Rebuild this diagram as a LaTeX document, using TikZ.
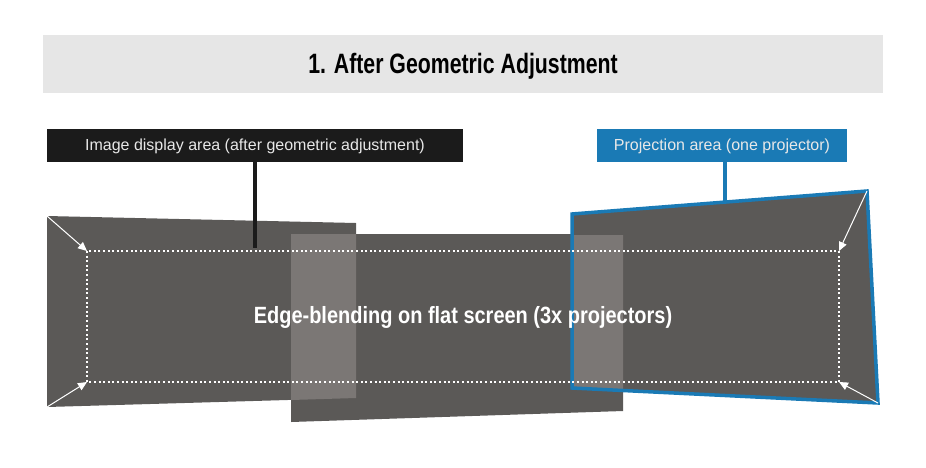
\documentclass[tikz,border=0pt]{standalone}
\usepackage{fontspec}
\setmainfont{Liberation Sans}
\newfontfamily\condbold[FakeStretch=0.85]{Liberation Sans Bold}
\newfontfamily\condboldtitle[FakeStretch=0.76]{Liberation Sans Bold}
\usetikzlibrary{arrows.meta}
\definecolor{titlebg}{HTML}{E6E6E6}
\definecolor{quad}{HTML}{5B5957}
\definecolor{overlap}{HTML}{7B7775}
\definecolor{projblue}{HTML}{1A7AB5}
\definecolor{labelblack}{HTML}{1B1B1B}
\definecolor{labeltext}{HTML}{E8E8E8}
\tikzset{
  labelbox/.style={minimum height=33pt, inner sep=0pt, text=labeltext, font=\fontsize{16pt}{18pt}\selectfont},
  stem/.style={line width=3.5pt},
  cornerarrow/.style={white, line width=1pt, -{Triangle[length=9pt,width=8pt]}},
  dottedrect/.style={white, line width=1.8pt, dash pattern=on 2pt off 2.6pt},
}
\begin{document}
\begin{tikzpicture}[x=1pt,y=-1pt]
\useasboundingbox (0,0) rectangle (926,467);
% title bar
\node[fill=titlebg, minimum width=840pt, minimum height=58pt, inner sep=0pt] (title) at (463,64)
  {\raisebox{-9.3pt}[0pt][0pt]{\condboldtitle\fontsize{28pt}{32pt}\selectfont 1. After Geometric Adjustment}};
% quads
\fill[quad] (47,216) -- (356,223) -- (356,398) -- (47,407) -- cycle;
\fill[quad] (291,234) -- (623,234) -- (623,411) -- (291,422) -- cycle;
\fill[quad] (572,214) -- (867,191) -- (878,403) -- (572,388) -- cycle;
% overlaps
\fill[overlap] (291,234) -- (356,234) -- (356,398) -- (291,400) -- cycle;
\fill[overlap] (572,235) -- (623,235) -- (623,390.5) -- (572,388) -- cycle;
% blue outline
\draw[projblue, line width=3.5pt, line join=miter] (572,214) -- (867,191) -- (878,403) -- (572,388) -- cycle;
% dotted rect
\draw[dottedrect] (87,251) rectangle (839,382);
% corner arrows
\coordinate (q1) at (47,216); \coordinate (d1) at (87,251);
\coordinate (q2) at (47,407); \coordinate (d2) at (87,382);
\coordinate (q3) at (867,191); \coordinate (d3) at (839,251);
\coordinate (q4) at (878,403); \coordinate (d4) at (839,382);
\draw[cornerarrow] (q1) -- (d1);
\draw[cornerarrow] (q2) -- (d2);
\draw[cornerarrow] (q3) -- (d3);
\draw[cornerarrow] (q4) -- (d4);
% center text
\node[text=white] (center) at (463,317)
  {\condbold\fontsize{23.5pt}{27pt}\selectfont Edge-blending on flat screen (3x projectors)};
% labels
\node[labelbox, fill=labelblack, minimum width=416pt] (imglabel) at (255,145.5)
  {\raisebox{-4.5pt}[0pt][0pt]{Image display area (after geometric adjustment)}};
\node[labelbox, fill=projblue, minimum width=250pt] (projlabel) at (722,145.5)
  {\raisebox{-4.5pt}[0pt][0pt]{Projection area (one projector)}};
\coordinate (imgend) at (255,248);
\coordinate (projend) at (725,201);
\draw[stem, labelblack] (imglabel.south -| imgend) -- (imgend);
\draw[stem, projblue] (imglabel.south -| projend) -- (projend);
\end{tikzpicture}
\end{document}
